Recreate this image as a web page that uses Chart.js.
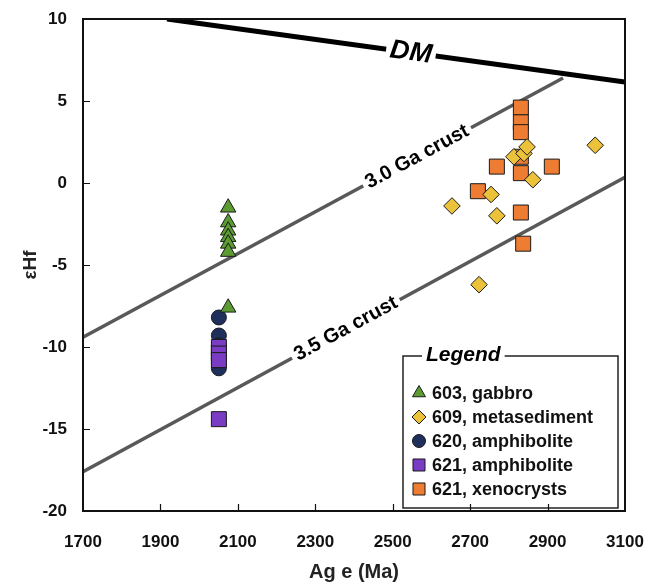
<!DOCTYPE html>
<html>
<head>
<meta charset="utf-8">
<script src="https://cdn.jsdelivr.net/npm/chart.js@4.4.0/dist/chart.umd.min.js"></script>
<style>
  body { margin: 0; background: #fff; }
  #wrap { width: 651px; height: 587px; }
</style>
</head>
<body>
<div id="wrap"><canvas id="myChart" width="651" height="587"></canvas></div>
<script>
// sample data (age in Ma, epsilon Hf)
const age603 = [2075, 2075, 2075, 2075, 2075, 2075, 2075];
const ehf603 = [-1.5, -2.4, -2.9, -3.3, -3.7, -4.2, -7.6];

const age609 = [2653, 2723, 2754, 2769, 2813, 2839, 2847, 2862, 3023];
const ehf609 = [-1.4, -6.2, -0.7, -2.0, 1.6, 1.8, 2.2, 0.2, 2.3];

const age620 = [2051, 2051, 2051, 2051, 2051, 2051, 2051];
const ehf620 = [-8.2, -9.3, -9.9, -10.5, -10.7, -11.0, -11.3];

const age621 = [2051, 2051, 2051, 2051];
const ehf621 = [-10.0, -10.4, -10.8, -14.4];

const age621x = [2831, 2831, 2831, 2831, 2769, 2911, 2831, 2720, 2831, 2837];
const ehf621x = [4.6, 3.7, 3.1, 1.6, 1.0, 1.0, 0.6, -0.5, -1.8, -3.7];

// reference evolution lines
const dmAge = [1917, 3100];
const dmEhf = [10, 6.15];
const crust30Age = [1700, 2940];
const crust30Ehf = [-9.4, 6.4];
const crust35Age = [1700, 3100];
const crust35Ehf = [-17.6, 0.35];

const seriesNames = ["603, gabbro", "609, metasediment", "620, amphibolite", "621, amphibolite", "621, xenocrysts"];
const xTicks = [1700, 1900, 2100, 2300, 2500, 2700, 2900, 3100];
const yTicks = [-20, -15, -10, -5, 0, 5, 10];

const FONT = "'Liberation Sans', Arial, sans-serif";

const pts = (xs, ys) => xs.map((x, i) => ({ x: x, y: ys[i] }));

const lineDs = (xs, ys, color, width, label) => ({
  data: pts(xs, ys),
  showLine: true,
  borderColor: color,
  borderWidth: width,
  pointRadius: 0,
  order: 10,
  lineLabel: label
});

const markDs = (name, xs, ys, style, fill, radius, order) => ({
  label: name,
  data: pts(xs, ys),
  pointStyle: style,
  backgroundColor: fill,
  borderColor: "#1a1a1a",
  borderWidth: 1,
  pointRadius: radius,
  pointHoverRadius: radius,
  order: order
});

// labels sitting on the reference lines, text cuts the line
const lineLabels = {
  id: "lineLabels",
  afterDatasetDraw(chart, args) {
    const ds = chart.data.datasets[args.index];
    if (!ds.lineLabel) return;
    const { text, at, font } = ds.lineLabel;
    const xs = chart.scales.x, ys = chart.scales.y;
    const p0 = ds.data[0], p1 = ds.data[ds.data.length - 1];
    const yAt = p0.y + (p1.y - p0.y) * (at - p0.x) / (p1.x - p0.x);
    const px = xs.getPixelForValue(at), py = ys.getPixelForValue(yAt);
    const ang = Math.atan2(ys.getPixelForValue(p1.y) - ys.getPixelForValue(p0.y),
      xs.getPixelForValue(p1.x) - xs.getPixelForValue(p0.x));
    const ctx = chart.ctx;
    ctx.save();
    ctx.translate(px, py);
    ctx.rotate(ang);
    ctx.font = font;
    const w = ctx.measureText(text).width;
    ctx.fillStyle = "#fff";
    ctx.fillRect(-w / 2 - 4, -9, w + 8, 18);
    ctx.fillStyle = "#000";
    ctx.textAlign = "center";
    ctx.textBaseline = "middle";
    ctx.fillText(text, 0, 0);
    ctx.restore();
  }
};

const legendBox = {
  id: "legendBox",
  afterDatasetsDraw(chart) {
    const ctx = chart.ctx;
    const area = chart.chartArea;
    const x0 = area.right - 222, x1 = area.right - 7;
    const y0 = area.bottom - 155, y1 = area.bottom - 3;
    ctx.save();
    ctx.fillStyle = "#fff";
    ctx.fillRect(x0, y0, x1 - x0, y1 - y0);
    ctx.strokeStyle = "#222";
    ctx.lineWidth = 1.5;
    ctx.strokeRect(x0, y0, x1 - x0, y1 - y0);

    ctx.font = "italic bold 21px " + FONT;
    const tw = ctx.measureText("Legend").width;
    ctx.fillStyle = "#fff";
    ctx.fillRect(x0 + 19, y0 - 4, tw + 8, 8);
    ctx.fillStyle = "#000";
    ctx.textBaseline = "middle";
    ctx.fillText("Legend", x0 + 23, y0 - 1);

    ctx.font = "bold 18px " + FONT;
    seriesNames.forEach((name, i) => {
      const ds = chart.data.datasets.find((d) => d.label === name);
      const y = y0 + 37 + i * 24;
      ctx.fillStyle = ds.backgroundColor;
      ctx.strokeStyle = ds.borderColor;
      ctx.lineWidth = 1;
      Chart.helpers.drawPoint(ctx, { pointStyle: ds.pointStyle, radius: ds.legendRadius, borderWidth: 1, rotation: 0 }, x0 + 16, y);
      ctx.fillStyle = "#111";
      ctx.fillText(name, x0 + 29, y + 1);
    });
    ctx.restore();
  }
};

// box round the plot and tick marks pointing inwards
const frameTicks = {
  id: "frameTicks",
  afterDraw(chart) {
    const ctx = chart.ctx;
    const { left, right, top, bottom } = chart.chartArea;
    const xs = chart.scales.x, ys = chart.scales.y;
    ctx.save();
    ctx.strokeStyle = "#111";
    ctx.lineWidth = 2;
    ctx.strokeRect(left, top, right - left, bottom - top);
    ctx.lineWidth = 1.2;
    ctx.beginPath();
    xTicks.slice(1, -1).forEach((v) => {
      const p = Math.round(xs.getPixelForValue(v)) + 0.5;
      ctx.moveTo(p, bottom);
      ctx.lineTo(p, bottom - 7);
    });
    yTicks.slice(1, -1).forEach((v) => {
      const p = Math.round(ys.getPixelForValue(v)) + 0.5;
      ctx.moveTo(left, p);
      ctx.lineTo(left + 7, p);
    });
    ctx.stroke();
    ctx.restore();
  }
};

const datasets = [
  lineDs(dmAge, dmEhf, "#000", 5, { text: "DM", at: 2547, font: "italic bold 27px " + FONT }),
  lineDs(crust30Age, crust30Ehf, "#595959", 3.5, { text: "3.0 Ga crust", at: 2563, font: "bold 20px " + FONT }),
  lineDs(crust35Age, crust35Ehf, "#595959", 3.5, { text: "3.5 Ga crust", at: 2379, font: "bold 20px " + FONT }),
  markDs(seriesNames[0], age603, ehf603, "triangle", "#5b9b32", 8.9, 1),
  markDs(seriesNames[1], age609, ehf609, "rectRot", "#ecc23a", 8.3, 2),
  markDs(seriesNames[2], age620, ehf620, "circle", "#1f2f5c", 7.5, 5),
  markDs(seriesNames[3], age621, ehf621, "rect", "#7a3cc2", 10.6, 4),
  markDs(seriesNames[4], age621x, ehf621x, "rect", "#ee7d33", 10.6, 3)
];
datasets[3].legendRadius = 7.5;
datasets[4].legendRadius = 7;
datasets[5].legendRadius = 6.5;
datasets[6].legendRadius = 8.5;
datasets[7].legendRadius = 8.5;

const ctx = document.getElementById("myChart");
const myChart = new Chart(ctx, {
  type: "scatter",
  data: { datasets: datasets },
  plugins: [lineLabels, legendBox, frameTicks],
  options: {
    responsive: false,
    animation: false,
    layout: { padding: { top: 19, right: 26, left: 0, bottom: 0 } },
    plugins: {
      legend: { display: false },
      tooltip: { enabled: false }
    },
    scales: {
      x: {
        type: "linear",
        min: 1700,
        max: 3100,
        afterBuildTicks: (scale) => { scale.ticks = xTicks.map((v) => ({ value: v })); },
        afterFit: (scale) => {
          scale.height = 76;
          scale.paddingLeft = 0;
          scale.paddingRight = 0;
        },
        grid: { display: false, drawTicks: false },
        border: { display: false },
        ticks: {
          padding: 21,
          color: "#111",
          callback: (v) => String(v),
          font: { family: FONT, size: 17, weight: "bold" }
        },
        title: {
          display: true,
          text: "Ag e (Ma)",
          color: "#222",
          font: { family: FONT, size: 20, weight: "bold" },
          padding: { top: 0, bottom: 3 }
        }
      },
      y: {
        type: "linear",
        min: -20,
        max: 10,
        afterBuildTicks: (scale) => { scale.ticks = yTicks.map((v) => ({ value: v })); },
        afterFit: (scale) => {
          scale.width = 83;
          scale.paddingTop = 0;
          scale.paddingBottom = 0;
        },
        grid: { display: false, drawTicks: false },
        border: { display: false },
        ticks: {
          padding: 16,
          color: "#111",
          callback: (v) => String(v),
          font: { family: FONT, size: 17, weight: "bold" }
        },
        title: {
          display: true,
          text: "εHf",
          color: "#222",
          font: { family: FONT, size: 19, weight: "bold" },
          padding: { top: 19, bottom: 0 }
        }
      }
    }
  }
});
</script>
</body>
</html>
